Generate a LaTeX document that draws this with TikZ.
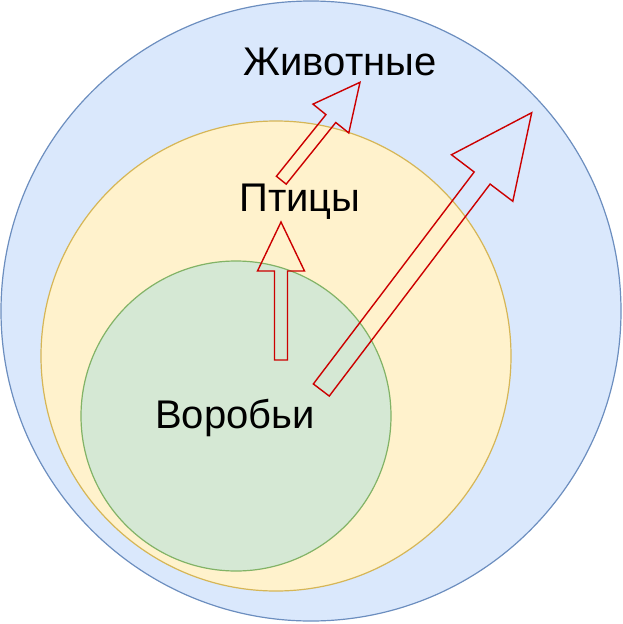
\documentclass[tikz,border=0pt]{standalone}
\usepackage{fontspec}
\setmainfont{Liberation Sans}
\usetikzlibrary{calc}
\definecolor{bluef}{HTML}{DAE8FC}\definecolor{blues}{HTML}{6C8EBF}
\definecolor{yelf}{HTML}{FFF2CC}\definecolor{yels}{HTML}{D6B656}
\definecolor{grnf}{HTML}{D5E8D4}\definecolor{grns}{HTML}{82B366}
\definecolor{arrred}{HTML}{CC0000}
\tikzset{
  circ/.style={line width=1.2pt},
  lbl/.style={font=\fontsize{40}{48}\selectfont, text=black, inner sep=0pt},
  blockarr/.style={draw=arrred, line width=1.4pt, line join=miter},
}
% #1 tail, #2 tip, #3 shaft half width, #4 head half width, #5 head length
\newcommand{\blockarrow}[5]{%
  \coordinate (H) at ($(#2)!#5!(#1)$);
  \draw[blockarr] ($(#1)!#3!90:(#2)$) -- ($(H)!#3!-90:(#1)$) -- ($(H)!#4!-90:(#1)$) -- (#2)
    -- ($(H)!#4!90:(#1)$) -- ($(H)!#3!90:(#1)$) -- ($(#1)!#3!-90:(#2)$) -- cycle;
}
\begin{document}
\begin{tikzpicture}[x=1pt,y=-1pt]
\useasboundingbox (0,0) rectangle (622,624);
\fill[bluef, draw=blues, circ] (311,311) circle (310pt);
\fill[yelf, draw=yels, circ] (276,356) circle (235pt);
\fill[grnf, draw=grns, circ] (236,416) circle (155pt);
\node[lbl] (animals) at (340,62) {Животные};
\node[lbl] (birds) at (300,202) {Птицы};
\node[lbl] (sparrows) at (235,418) {Воробьи};
\coordinate (a1t) at (281,360); \coordinate (a1h) at (281,222);
\coordinate (a2t) at (281.3,180.2); \coordinate (a2h) at (360,82.3);
\coordinate (a3t) at (321.3,390); \coordinate (a3h) at (531.7,112.7);
\blockarrow{a1t}{a1h}{6.5pt}{23.5pt}{49pt}
\blockarrow{a2t}{a2h}{6.3pt}{23pt}{46.5pt}
\blockarrow{a3t}{a3h}{10pt}{38.5pt}{82pt}
\end{tikzpicture}
\end{document}
